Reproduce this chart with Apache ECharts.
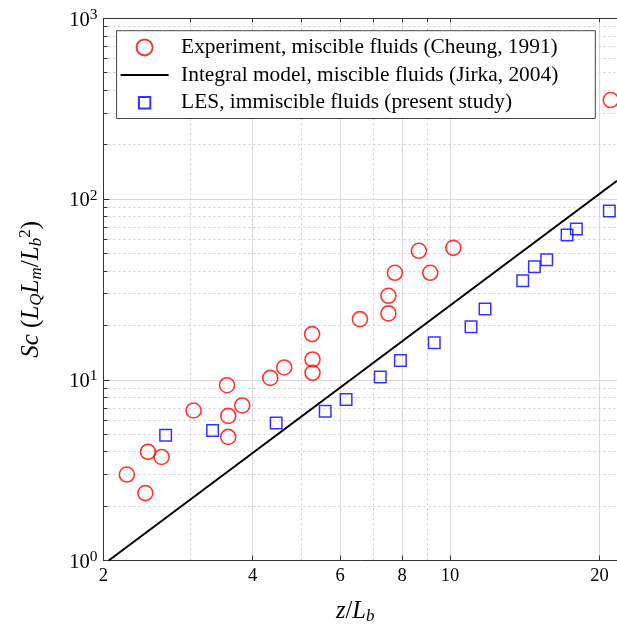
<!DOCTYPE html>
<html><head><meta charset="utf-8">
<script src="https://cdn.jsdelivr.net/npm/echarts@6/dist/echarts.min.js"></script>
<style>html,body{margin:0;padding:0;background:#fff}#c{width:617px;height:626px}</style>
</head><body><div id="c"></div>
<script>
// Experiment, miscible fluids (Cheung, 1991)
const expX = [2.23, 2.43, 2.46, 2.62, 3.04, 3.55, 3.57, 3.57, 3.81, 4.34, 4.63, 5.28, 5.28, 5.27, 6.58, 7.51, 7.51, 7.74, 8.65, 9.12, 10.15, 21.08];
const expY = [2.99, 2.36, 3.99, 3.74, 6.76, 9.33, 6.31, 4.83, 7.21, 10.24, 11.70, 12.95, 10.92, 17.89, 21.65, 23.29, 29.15, 39.08, 51.7, 39.08, 53.7, 353];
// LES, immiscible fluids (present study)
const lesX = [2.67, 3.32, 4.46, 5.60, 6.17, 7.23, 7.94, 9.29, 11.02, 11.76, 14.01, 14.79, 15.66, 17.21, 17.97, 20.94];
const lesY = [4.93, 5.24, 5.77, 6.70, 7.78, 10.36, 12.79, 16.01, 19.63, 24.6, 35.3, 42.2, 46.1, 63.2, 68.2, 85.8];
// Integral model (Jirka, 2004) - straight line in log-log, end points
const modelX = [2.05, 21.7];
const modelY = [1.0, 126.3];
// ticks
const xTicks = [2, 4, 6, 8, 10, 20];
const xMinor = [3, 5, 7, 9];
const xTopTicks = [3, 4, 5, 6, 7, 8, 9, 10, 20];
const yMinor = [2, 3, 4, 5, 6, 7, 8, 9, 20, 30, 40, 50, 60, 70, 80, 90, 200, 300, 400, 500, 600, 700, 800, 900];
const names = ['Experiment, miscible fluids (Cheung, 1991)', 'Integral model, miscible fluids (Jirka, 2004)', 'LES, immiscible fluids (present study)'];

const FONT = 'Liberation Serif';
const zip = (a, b) => a.map((v, i) => [v, b[i]]);
const solidGrid = {show: true, lineStyle: {color: '#d9d9d9', width: 1, type: 'solid'}};
const dotGrid = {show: true, lineStyle: {color: '#cfcfcf', width: 1, type: [2, 3]}};
const axisCol = '#333';

const chart = echarts.init(document.getElementById('c'), null, {renderer: 'canvas'});
chart.setOption({
  animation: false,
  backgroundColor: '#fff',
  grid: {left: 103.4, right: 0, top: 18.3, bottom: 65.5, containLabel: false, outerBoundsMode: 'none'},
  legend: {
    orient: 'vertical', left: 116.6, top: 30.7,
    padding: [6, 37, 5, 3], itemGap: 6.3,
    itemWidth: 48, itemHeight: 16,
    backgroundColor: '#fff', borderColor: '#444', borderWidth: 1,
    textStyle: {fontFamily: FONT, fontSize: 21.4, color: '#000', lineHeight: 21.4, padding: [0, 0, 0, 7.5]},
    data: [
      {name: names[0]},
      {name: names[1], itemStyle: {color: 'rgba(0,0,0,0)', borderWidth: 0, opacity: 0}},
      {name: names[2], icon: 'path://M0,0M16,16M2.3,2.3h11.4v11.4h-11.4z'}
    ]
  },
  xAxis: [
    {
      type: 'log', logBase: 10, min: 2, max: 21.7, position: 'bottom',
      axisLine: {show: true, onZero: false, lineStyle: {color: axisCol, width: 1}},
      axisTick: {show: true, inside: true, length: 5, customValues: xTicks, lineStyle: {color: axisCol}},
      axisLabel: {customValues: xTicks, margin: 6, fontFamily: FONT, fontSize: 18.5, color: '#000', formatter: v => String(Math.round(v))},
      splitLine: solidGrid,
      name: '{i|z}{r|/}{i|L}{s|b}', nameLocation: 'middle', nameGap: 37,
      nameTextStyle: {
        padding: [0, 10, 0, 0],
        rich: {
          i: {fontFamily: FONT, fontStyle: 'italic', fontSize: 24.5, color: '#000'},
          r: {fontFamily: FONT, fontSize: 24.5, color: '#000'},
          s: {fontFamily: FONT, fontStyle: 'italic', fontSize: 17, color: '#000', padding: [11, 0, 0, 0]}
        }
      }
    },
    {
      type: 'log', logBase: 10, min: 2, max: 21.7, position: 'top',
      axisLine: {show: true, onZero: false, lineStyle: {color: axisCol, width: 1}},
      axisTick: {show: true, inside: true, length: 4, customValues: xTopTicks, lineStyle: {color: axisCol}},
      axisLabel: {show: false},
      splitLine: {show: false}
    },
    {
      type: 'log', logBase: 10, min: 2, max: 21.7, position: 'bottom',
      axisLine: {show: false},
      axisTick: {show: false, customValues: xMinor},
      axisLabel: {show: false},
      splitLine: dotGrid
    }
  ],
  yAxis: [
    {
      type: 'log', logBase: 10, min: 1, max: 1000, position: 'left',
      axisLine: {show: true, onZero: false, lineStyle: {color: axisCol, width: 1}},
      axisTick: {show: true, inside: true, length: 6, lineStyle: {color: axisCol}},
      axisLabel: {
        margin: 6, color: '#000',
        formatter: v => '{b|10}{p|' + Math.round(Math.log10(v)) + '}',
        rich: {
          b: {fontFamily: FONT, fontSize: 20.5, color: '#000', padding: [4, 0, 0, 0]},
          p: {fontFamily: FONT, fontSize: 15.5, color: '#000', padding: [0, 0, 7, 0]}
        }
      },
      splitLine: solidGrid,
      name: '{i|Sc}{r| (}{i|L}{s|Q}{i|L}{s|m}{r|/}{i|L}{s|b}{p|2}{r|)}',
      nameLocation: 'middle', nameGap: 58, nameRotate: 90,
      nameTextStyle: {
        rich: {
          i: {fontFamily: FONT, fontStyle: 'italic', fontSize: 25, color: '#000'},
          r: {fontFamily: FONT, fontSize: 25, color: '#000'},
          s: {fontFamily: FONT, fontStyle: 'italic', fontSize: 17, color: '#000', padding: [11, 0, 0, 0]},
          p: {fontFamily: FONT, fontSize: 17, color: '#000', padding: [0, 0, 11, 0]}
        }
      }
    },
    {
      type: 'log', logBase: 10, min: 1, max: 1000, position: 'left',
      axisLine: {show: false},
      axisTick: {show: true, inside: true, length: 4, customValues: yMinor, lineStyle: {color: axisCol}},
      axisLabel: {show: false},
      splitLine: dotGrid
    }
  ],
  series: [
    {
      name: names[0], type: 'scatter', xAxisIndex: 0, yAxisIndex: 0,
      symbol: 'circle', symbolSize: 15,
      itemStyle: {color: 'rgba(0,0,0,0)', borderColor: '#ff0000', borderWidth: 1.6},
      data: zip(expX, expY), z: 3
    },
    {
      name: names[1], type: 'line', xAxisIndex: 0, yAxisIndex: 0,
      symbol: 'none', lineStyle: {color: '#000', width: 2}, itemStyle: {color: '#000'},
      data: zip(modelX, modelY), z: 2
    },
    {
      name: names[2], type: 'scatter', xAxisIndex: 0, yAxisIndex: 0,
      symbol: 'rect', symbolSize: 11.5,
      itemStyle: {color: 'rgba(0,0,0,0)', borderColor: '#0000ff', borderWidth: 1.5},
      data: zip(lesX, lesY), z: 3
    }
  ]
});
</script></body></html>
